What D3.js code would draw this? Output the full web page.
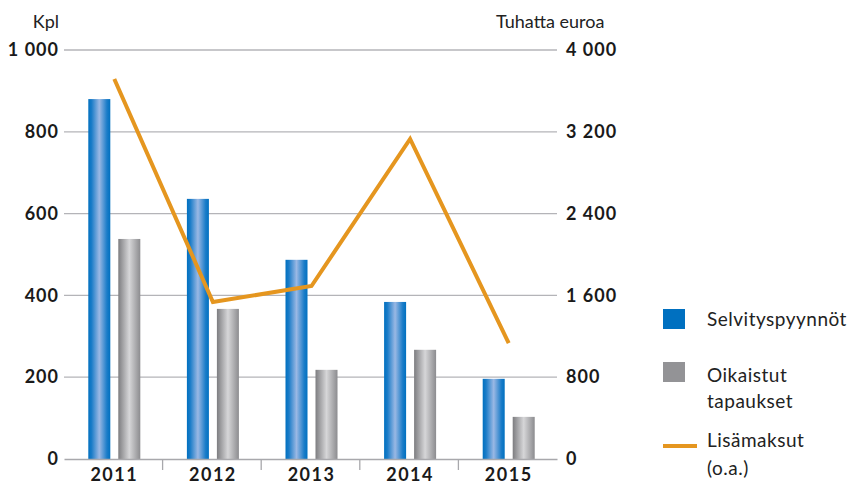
<!DOCTYPE html>
<html><head><meta charset="utf-8">
<script src="https://cdn.jsdelivr.net/npm/d3@7"></script>
<style>body{margin:0;background:#fff;} text{font-family:Lato,"Open Sans",sans-serif;}</style>
</head><body><svg id="c" width="852" height="485"></svg>
<script>
const years = ["2011","2012","2013","2014","2015"];
const selvityspyynnot = [880, 636, 487, 384, 196];
const oikaistut = [538, 367, 218, 267, 103];
const lisamaksut = [3716, 1535, 1692, 3130, 1134];
const leftTicks = [0, 200, 400, 600, 800, 1000];
const rightTicks = [0, 800, 1600, 2400, 3200, 4000];
const fmt = v => d3.format(",")(v).replace(/,/g, " ");

const svg = d3.select("#c");
const m = {l:64, r:557, t:50, b:459};
const x = d3.scaleBand().domain(years).range([m.l, m.r]);
const yL = d3.scaleLinear().domain([0,1000]).range([m.b, m.t]);
const yR = d3.scaleLinear().domain([0,4000]).range([m.b, m.t]);

const defs = svg.append("defs");
function grad(id, stops){
  const g = defs.append("linearGradient").attr("id", id).attr("x1","0").attr("x2","1").attr("y1","0").attr("y2","0");
  stops.forEach(s => g.append("stop").attr("offset", s[0]).attr("stop-color", s[1]));
}
grad("gb", [[0,"#0070c0"],[0.15,"#1a7cc8"],[0.5,"#9ab8e4"],[0.85,"#1a7cc8"],[1,"#0070c0"]]);
grad("gg", [[0,"#7d7d80"],[0.5,"#d6d6d8"],[1,"#8c8c8f"]]);

// gridlines
svg.append("g").selectAll("line").data(leftTicks.filter(d=>d>0)).join("line")
  .attr("x1", m.l).attr("x2", m.r).attr("y1", d=>yL(d)).attr("y2", d=>yL(d))
  .attr("stroke", "#b4b4b8").attr("stroke-width", 1.3);

function styleNum(sel, ls){
  sel.attr("font-size", 18).attr("font-weight", "bold").attr("fill", "#1a1a1a")
    .attr("letter-spacing", ls).attr("font-family", "Lato, sans-serif");
}
// left axis labels
const axL = svg.append("g").attr("transform", `translate(${m.l},0)`)
  .call(d3.axisLeft(yL).tickValues(leftTicks).tickFormat(fmt).tickSize(0).tickPadding(5));
axL.select(".domain").remove();
styleNum(axL.selectAll("text"), 1);

const axR = svg.append("g").attr("transform", `translate(${m.r},0)`)
  .call(d3.axisRight(yR).tickValues(rightTicks).tickFormat(fmt).tickSize(0).tickPadding(9));
axR.select(".domain").remove();
styleNum(axR.selectAll("text"), 1);

svg.append("text").attr("x", 59).attr("y", 28).attr("text-anchor","end").attr("font-size",18).attr("fill","#222").text("Kpl");
svg.append("text").attr("x", 496).attr("y", 28).attr("font-size",18).attr("fill","#222").text("Tuhatta euroa");

// bars
const bw = 22, gap = 8;
const cx = d => x(d) + x.bandwidth()/2 + 1;
svg.append("g").selectAll("rect").data(years).join("rect")
  .attr("x", d => cx(d) - gap/2 - bw).attr("width", bw)
  .attr("y", (d,i) => yL(selvityspyynnot[i])).attr("height", (d,i) => m.b - yL(selvityspyynnot[i]))
  .attr("fill", "url(#gb)");
svg.append("g").selectAll("rect").data(years).join("rect")
  .attr("x", d => cx(d) + gap/2).attr("width", bw)
  .attr("y", (d,i) => yL(oikaistut[i])).attr("height", (d,i) => m.b - yL(oikaistut[i]))
  .attr("fill", "url(#gg)");

// x axis
const axX = svg.append("g").attr("transform", `translate(0,${m.b})`)
  .call(d3.axisBottom(x).tickSize(0).tickPadding(9));
axX.select(".domain").attr("stroke", "#a8a8ac").attr("stroke-width", 1.3);
styleNum(axX.selectAll("text"), 1.5);
axX.selectAll("text").attr("dx", 1);
svg.append("g").selectAll("line").data(years.slice(1)).join("line")
  .attr("x1", d => x(d)).attr("x2", d => x(d)).attr("y1", m.b).attr("y2", m.b + 11)
  .attr("stroke", "#a8a8ac").attr("stroke-width", 1.3);

// line
const line = d3.line().x((d,i) => cx(years[i])).y(d => yR(d));
svg.append("path").datum(lisamaksut).attr("d", line).attr("fill","none")
  .attr("stroke", "#e5961f").attr("stroke-width", 4).attr("stroke-linejoin","miter");

// legend
const lg = svg.append("g").attr("font-size", 19).attr("letter-spacing", 0.5).attr("fill", "#222");
lg.append("rect").attr("x",663).attr("y",309).attr("width",22).attr("height",20).attr("fill","#0070c0");
lg.append("text").attr("x",707).attr("y",326).text("Selvityspyynnöt");
lg.append("rect").attr("x",663).attr("y",362).attr("width",22).attr("height",20).attr("fill","#939396");
lg.append("text").attr("x",707).attr("y",382).text("Oikaistut");
lg.append("text").attr("x",707).attr("y",408).text("tapaukset");
lg.append("line").attr("x1",663).attr("x2",697).attr("y1",446).attr("y2",446).attr("stroke","#e5961f").attr("stroke-width",4);
lg.append("text").attr("x",707).attr("y",447).text("Lisämaksut");
lg.append("text").attr("x",707).attr("y",475).text("(o.a.)");
</script></body></html>
